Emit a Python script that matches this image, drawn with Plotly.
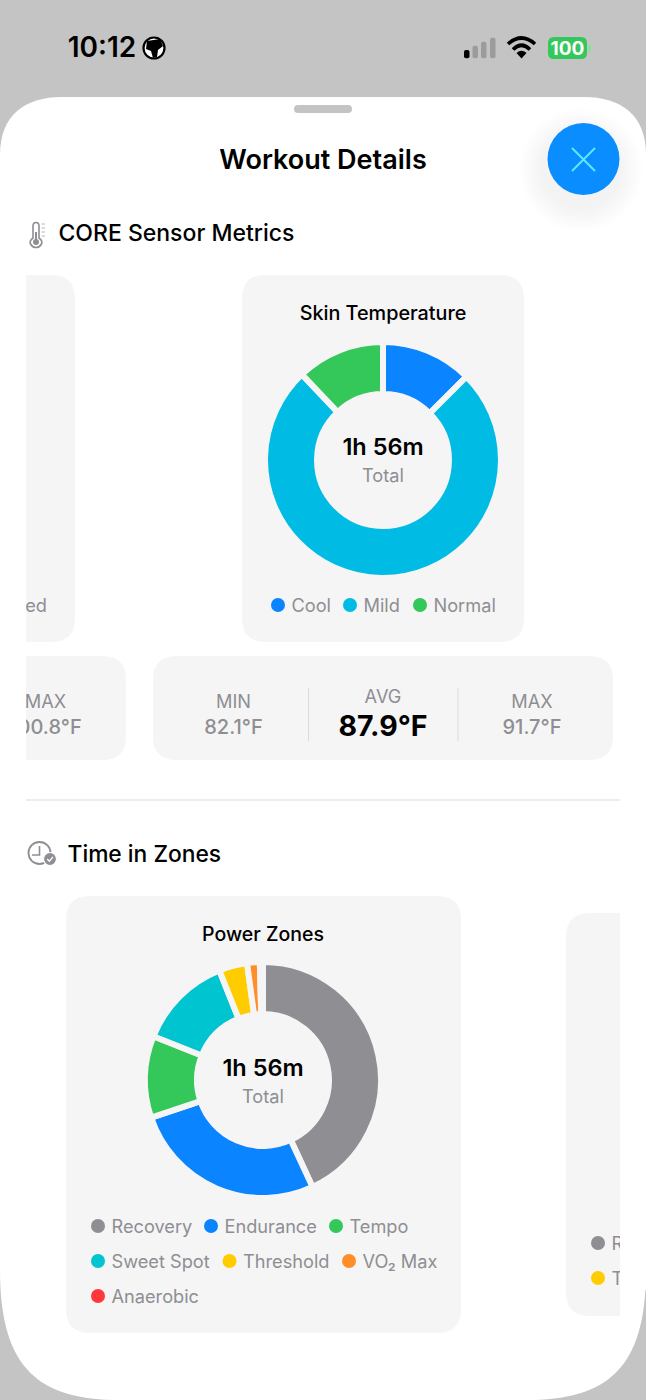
import plotly.graph_objects as go

# ===========================================================================================================
# Data (minutes per zone, total 1h 56m)
skin_labels = ['Cool', 'Mild', 'Normal']
skin_values = [14.5, 87.5, 14]
skin_colors = ['#0a84ff', '#00bce4', '#34c759']

power_labels = ['Recovery', 'Endurance', 'Tempo', 'Sweet Spot', 'Threshold', 'VO₂ Max', 'Anaerobic']
power_values = [50, 31, 13, 15, 4.5, 2, 0.5]
power_colors = ['#8e8e93', '#0a84ff', '#34c759', '#00c4cf', '#ffcc00', '#ff8d28', '#ff383c']

stat_labels = ['MIN', 'AVG', 'MAX']
skin_stats = ['82.1°F', '87.9°F', '91.7°F']
left_card_max = '100.8°F'
total_text = '1h 56m'

W, H = 646, 1400
GREY = '#8e8e93'
CARD = '#f5f5f5'
FONT = 'Inter'

fig = go.Figure()
shapes = []


def rounded(x0, y0, x1, y1, r, color, left=True, right=True):
    # rounded rectangle as a path, square on a side that is cut by the scroll view
    rl = r if left else 0
    rr = r if right else 0
    p = f'M{x0 + rl},{y0} L{x1 - rr},{y0} Q{x1},{y0} {x1},{y0 + rr} L{x1},{y1 - rr} Q{x1},{y1} {x1 - rr},{y1} '
    p += f'L{x0 + rl},{y1} Q{x0},{y1} {x0},{y1 - rl} L{x0},{y0 + rl} Q{x0},{y0} {x0 + rl},{y0} Z'
    shapes.append(dict(type='path', path=p, fillcolor=color, line_width=0, layer='below'))


def circle(cx, cy, r, fill, line=None, width=0, opacity=1):
    shapes.append(dict(type='circle', x0=cx - r, x1=cx + r, y0=cy - r, y1=cy + r, fillcolor=fill,
                       line=dict(color=line or fill, width=width), opacity=opacity, layer='below'))


def stroke(path, color, width):
    shapes.append(dict(type='path', path=path, line=dict(color=color, width=width), layer='below'))


def label(x, y, text, size, color='#000000', weight=400, pos='middle center'):
    # +2: plotly sets the middle of the text box a little above the visual middle of the letters
    fig.add_trace(go.Scatter(x=[x], y=[y + 2], text=[text], mode='text', textposition=pos,
                             textfont=dict(family=FONT, size=size, color=color, weight=weight),
                             hoverinfo='skip', showlegend=False))


def donut(values, colors, cx, cy):
    # stroke in the card colour gives the gaps, so the domain is a bit bigger than the visible ring
    R = 118
    fig.add_trace(go.Pie(values=values, marker=dict(colors=colors, line=dict(color=CARD, width=6)),
                         domain=dict(x=[(cx - R) / W, (cx + R) / W], y=[1 - (cy + R) / H, 1 - (cy - R) / H]),
                         hole=0.559, sort=False, direction='clockwise', rotation=0,
                         textinfo='none', hoverinfo='skip', showlegend=False))


def legend(labels, colors, dots, size=18.2):
    # dots = (x of dot, y of row) for each entry
    fig.add_trace(go.Scatter(x=[d[0] for d in dots], y=[d[1] for d in dots], mode='markers',
                             marker=dict(color=colors, size=14), hoverinfo='skip', showlegend=False))
    for name, d in zip(labels, dots):
        label(d[0] + 13.5, d[1], name, size, GREY, 400, 'middle right')


# ===========================================================================================================
# Sheet and status bar
shapes.append(dict(type='path', fillcolor='#ffffff', line_width=0, layer='below',
                   path='M0,155 C0,115 25,97 62,97 L584,97 C621,97 646,115 646,155 L646,1270 '
                        'C646,1370 606,1400 526,1400 L120,1400 C40,1400 0,1370 0,1270 Z'))
rounded(294, 105, 352, 113, 4, '#c4c4c4')

label(102, 48, '10:12', 28, '#000000', 600)
circle(154, 48, 10.5, '#ffffff', '#000000', 2.2)
shapes.append(dict(type='path', fillcolor='#000000', line_width=0, layer='below',
                   path='M147,41 L160,39 L163,46 L158,50 L157,57 L153,58 L151,51 L146,49 Z'))
for bar, (x0, top) in enumerate([(464, 50), (472.5, 45.7), (481, 41.7), (490, 37.7)]):
    rounded(x0, top, x0 + 5.5, 58.3, 2, '#000000' if bar == 0 else '#9c9c9c')
stroke('M508,44 Q521.5,32 535,44', '#000000', 3.6)
stroke('M513,49.5 Q521.5,41 530,49.5', '#000000', 3.6)
shapes.append(dict(type='path', path='M516.5,53 Q521.5,48.5 526.5,53 L521.5,58.5 Z', fillcolor='#000000',
                   line_width=0, layer='below'))
rounded(548, 37, 587, 59, 6, '#34c759')
rounded(588, 44, 591, 52, 1.5, '#8fdca3')
label(567.5, 48, '100', 19, '#ffffff', 700)

# Header
label(323, 160, 'Workout Details', 27, '#000000', 600)
for i in range(12):
    circle(581, 170, 62 - 2 * i, '#000000', opacity=0.005)
circle(583.5, 159, 36, '#0a8dff')
stroke('M572,148 L595,171 M595,148 L572,171', '#5ce8ff', 2)

# CORE Sensor Metrics header with thermometer icon
stroke('M33,238 L33,226 Q33,222.5 36,222.5 Q39,222.5 39,226 L39,238 Q43,241 41.5,244 Q39.5,247.5 36,247.5 '
       'Q32.5,247.5 30.5,244 Q29,241 33,238 Z', GREY, 1.6)
circle(36, 242, 3, GREY)
stroke('M36,242 L36,232', GREY, 2)
stroke('M41.5,224 L45,224 M41.5,228 L45,228 M41.5,232 L45,232 M41.5,236 L45,236', '#b8b8b8', 1)
label(58.5, 233.5, 'CORE Sensor Metrics', 23, '#000000', 500, 'middle right')

# Cards of the first row
rounded(26, 275, 75, 642, 24, CARD, left=False)
rounded(242, 275, 524, 642, 24, CARD)
rounded(26, 656, 126, 760, 24, CARD, left=False)
rounded(153, 656, 613, 760, 24, CARD)

label(383, 313, 'Skin Temperature', 19.8, '#000000', 500)
donut(skin_values, skin_colors, 383, 460)
label(383, 447, total_text, 23.5, '#000000', 600)
label(383, 475, 'Total', 18.2, GREY)
legend(skin_labels, skin_colors, [(278, 605), (350, 605), (420, 605)])
label(47, 605, 'ed', 18.2, GREY, 400, 'middle left')

# MIN / AVG / MAX strips
label(45.5, 701, stat_labels[2], 18.2, GREY)
label(45.5, 727, left_card_max, 20, GREY, 500)
label(233.5, 701, stat_labels[0], 18.2, GREY)
label(233.5, 727, skin_stats[0], 20, GREY, 500)
label(383, 696, stat_labels[1], 18.2, GREY)
label(383, 727, skin_stats[1], 28.5, '#000000', 700)
label(532, 701, stat_labels[2], 18.2, GREY)
label(532, 727, skin_stats[2], 20, GREY, 500)
stroke('M308.5,688 L308.5,741 M458,688 L458,741', '#dadada', 1)

stroke('M26,800 L620,800', '#e6e6e6', 1.5)

# Time in Zones header with clock icon
circle(39.5, 853, 11, '#ffffff', GREY, 1.8)
stroke('M39.5,846 L39.5,855 L32,855', GREY, 1.6)
circle(50, 859, 6.5, GREY, '#ffffff', 1.2)
stroke('M47.2,859 L49.3,861.2 L53,856.8', '#ffffff', 1.3)
label(67.5, 854, 'Time in Zones', 22.8, '#000000', 500, 'middle right')

# Power zones card
rounded(66, 896, 461, 1333, 24, CARD)
label(263, 934, 'Power Zones', 19.5, '#000000', 500)
donut(power_values, power_colors, 263, 1080)
label(263, 1068, total_text, 23.5, '#000000', 600)
label(263, 1096, 'Total', 18.2, GREY)
legend(power_labels, power_colors,
       [(98, 1226), (211, 1226), (336, 1226), (98, 1261), (229.5, 1261), (349, 1261), (98, 1296)])

# Next card, cut by the scroll view on the right: only the first letters show
rounded(566, 913, 620, 1316, 24, CARD, right=False)
legend(['R', 'T'], [power_colors[0], power_colors[4]], [(598, 1243), (598, 1278)])

# Masks for text that runs out of the scroll view
shapes.append(dict(type='rect', x0=0, x1=26, y0=590, y1=770, fillcolor='#ffffff', line_width=0, layer='above'))
shapes.append(dict(type='rect', x0=620, x1=646, y0=1230, y1=1290, fillcolor='#ffffff', line_width=0, layer='above'))

fig.update_layout(
    width=W, height=H,
    margin=dict(l=0, r=0, t=0, b=0),
    paper_bgcolor='#c4c4c4',
    plot_bgcolor='rgba(0,0,0,0)',
    showlegend=False,
    xaxis=dict(range=[0, W], visible=False, fixedrange=True),
    yaxis=dict(range=[H, 0], visible=False, fixedrange=True),
    shapes=shapes,
)

# default page has an 8px body margin, which would shift the whole figure
fig.write_html("out.html", config=dict(displayModeBar=False),
               post_script="document.body.style.margin='0';")
